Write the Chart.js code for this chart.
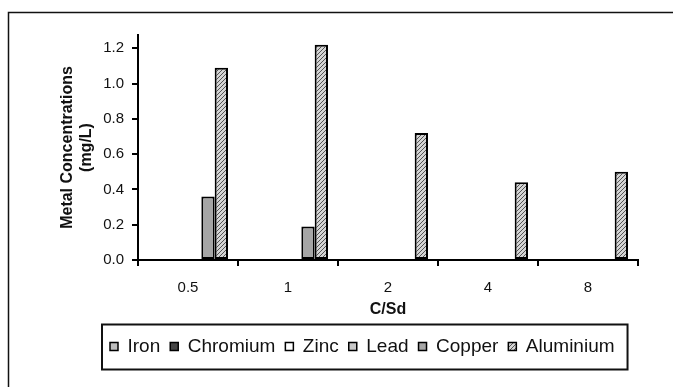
<!DOCTYPE html>
<html>
<head>
<meta charset="utf-8">
<script src="https://cdn.jsdelivr.net/npm/chart.js@4"></script>
<style>
  html, body { margin: 0; padding: 0; background: #fff; }
  #wrap { width: 673px; height: 387px; }
</style>
</head>
<body>
<div id="wrap"><canvas id="chart" width="673" height="387"></canvas></div>
<script>
// Datos del gráfico
const categories = ['0.5', '1', '2', '4', '8'];
const seriesNames = ['Iron', 'Chromium', 'Zinc', 'Lead', 'Copper', 'Aluminium'];
const iron = [0, 0, 0, 0, 0];
const chromium = [0, 0, 0, 0, 0];
const zinc = [0, 0, 0, 0, 0];
const lead = [0, 0, 0, 0, 0];
const copper = [0.36, 0.19, 0, 0, 0];
const aluminium = [1.09, 1.22, 0.72, 0.44, 0.50];
const yTicks = [0, 0.2, 0.4, 0.6, 0.8, 1.0, 1.2];

// Patrón rayado para el aluminio
function makeHatch() {
  const c = document.createElement('canvas');
  c.width = 4; c.height = 4;
  const g = c.getContext('2d');
  g.fillStyle = '#d4d4d4';
  g.fillRect(0, 0, 4, 4);
  g.strokeStyle = '#555';
  g.lineWidth = 1;
  g.beginPath();
  g.moveTo(0, 4); g.lineTo(4, 0);
  g.moveTo(-1, 1); g.lineTo(1, -1);
  g.moveTo(3, 5); g.lineTo(5, 3);
  g.stroke();
  return g.createPattern(c, 'repeat');
}

const ctx = document.getElementById('chart').getContext('2d');
const fills = ['#bdbdbd', '#444444', '#ffffff', '#c8c8c8', '#a6a6a6', makeHatch()];
const values = [iron, chromium, zinc, lead, copper, aluminium];
const FONT = 'Liberation Sans, Arial, sans-serif';

// Marco, posición de la leyenda y su recuadro
const framePlugin = {
  id: 'frame',
  afterLayout(chart) {
    const lg = chart.legend;
    const w = lg.right - lg.left;
    lg.left = 100;
    lg.right = 100 + w;
  },
  afterDraw(chart) {
    const c = chart.ctx;
    c.save();
    c.strokeStyle = '#111';
    c.lineWidth = 1.5;
    c.beginPath();
    c.moveTo(8.5, 387);
    c.lineTo(8.5, 12.5);
    c.lineTo(673, 12.5);
    c.stroke();
    const boxes = chart.legend.legendHitBoxes;
    if (boxes && boxes.length) {
      const left = Math.min(...boxes.map(b => b.left)) - 8;
      const right = Math.max(...boxes.map(b => b.left + b.width)) + 13;
      const mid = boxes[0].top + boxes[0].height / 2;
      c.lineWidth = 2;
      c.strokeRect(left, mid - 22, right - left, 45);
    }
    c.restore();
  }
};

new Chart(ctx, {
  type: 'bar',
  data: {
    labels: categories,
    datasets: seriesNames.map((name, i) => ({
      label: name,
      data: values[i],
      backgroundColor: fills[i],
      borderColor: '#000',
      borderWidth: c => (c.raw ? 2 : 0),
      borderSkipped: false,
      categoryPercentage: 0.8,
      barPercentage: 1
    }))
  },
  options: {
    responsive: false,
    animation: false,
    layout: { padding: { left: 0, right: 35, top: 35, bottom: 21 } },
    plugins: {
      tooltip: { enabled: false },
      legend: {
        position: 'bottom',
        align: 'start',
        labels: {
          boxWidth: 8,
          boxHeight: 8,
          padding: 10,
          color: '#111',
          font: { family: FONT, size: 19 },
          generateLabels: chart =>
            Chart.defaults.plugins.legend.labels.generateLabels(chart).map(l => ({
              ...l, lineWidth: 1.5, strokeStyle: '#000'
            }))
        }
      }
    },
    scales: {
      x: {
        offset: true,
        grid: { display: true, offset: true, drawOnChartArea: false, color: '#000', tickLength: 6, lineWidth: 2 },
        border: { color: '#000', width: 2 },
        ticks: { color: '#111', padding: 13, font: { family: FONT, size: 15 } },
        title: {
          display: true, text: 'C/Sd', color: '#111',
          font: { family: FONT, size: 16, weight: 'bold' },
          padding: { top: 0, bottom: 8 }
        },
        afterFit(scale) { scale.height = 67; }
      },
      y: {
        min: 0,
        max: 1.275,
        afterBuildTicks(scale) { scale.ticks = yTicks.map(v => ({ value: v })); },
        grid: { display: true, drawOnChartArea: false, color: '#000', tickLength: 6, lineWidth: 2 },
        border: { color: '#000', width: 2 },
        ticks: {
          color: '#111', padding: 8,
          font: { family: FONT, size: 15 },
          callback: v => Number(v).toFixed(1)
        },
        title: {
          display: true, text: ['Metal Concentrations', '(mg/L)'], color: '#111',
          font: { family: FONT, size: 16, weight: 'bold' },
          padding: { top: 58, bottom: 0 }
        },
        afterFit(scale) { scale.width = 138; }
      }
    }
  },
  plugins: [framePlugin]
});
</script>
</body>
</html>
